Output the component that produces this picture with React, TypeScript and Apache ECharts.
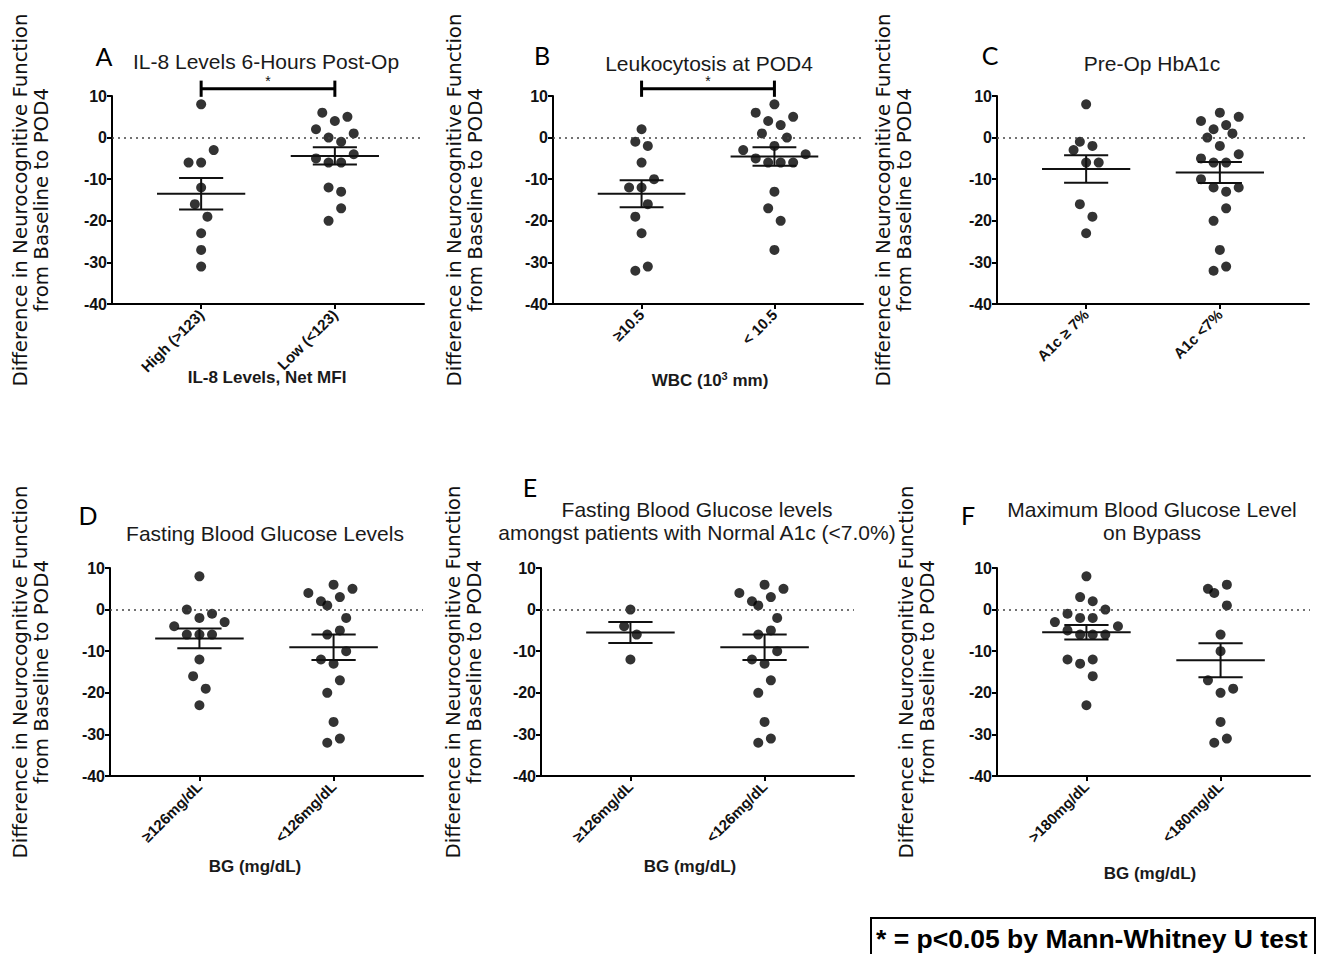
import React, { useEffect, useRef } from "react";
import * as echarts from "echarts";

// ---------- data ----------
const panelLetters = ["A", "B", "C", "D", "E", "F"];
const panelTitles = [
  "IL-8 Levels 6-Hours Post-Op",
  "Leukocytosis at POD4",
  "Pre-Op HbA1c",
  "Fasting Blood Glucose Levels",
  "Fasting Blood Glucose levels\namongst patients with Normal A1c (<7.0%)",
  "Maximum Blood Glucose Level\non Bypass",
];
const groupLabels = [
  ["High (>123)", "Low (<123)"],
  ["≥10.5", "< 10.5"],
  ["A1c ≥ 7%", "A1c <7%"],
  ["≥126mg/dL", "<126mg/dL"],
  ["≥126mg/dL", "<126mg/dL"],
  [">180mg/dL", "<180mg/dL"],
];
const xTitles = ["IL-8 Levels, Net MFI", "WBC (10{sup|3} mm)", "", "BG (mg/dL)", "BG (mg/dL)", "BG (mg/dL)"];
const yTitle = "Difference in Neurocognitive Function\nfrom Baseline to POD4";
const yTicks = [-40, -30, -20, -10, 0, 10];
const significant = [true, true, false, false, false, false];
const footnote = "* = p<0.05 by Mann-Whitney U test";

// values (difference in score) and horizontal spread slots for each group
const aHigh = [8, -3, -6, -6, -12, -16, -19, -23, -27, -31];
const aHighSlot = [0, 2, -2, 0, 0, -1, 1, 0, 0, 0];
const aLow = [6, 5, 4, 2, 1, 0, -1, -5, -4, -6, -6, -12, -13, -17, -20];
const aLowSlot = [-2, 2, 0, -3, 3, -1, 1, -3, 3, -1, 1, -1, 1, 1, -1];

const bHigh = [2, -1, -2, -6, -10, -12, -12, -16, -19, -23, -32, -31];
const bHighSlot = [0, -1, 1, 0, 2, -2, 0, 1, -1, 0, -1, 1];
const bLow = [8, 6, 4, 5, 1, 3, 0, -3, -2, -4, -5, -6, -6, -6, -13, -17, -20, -27];
const bLowSlot = [0, -3, -1, 3, -2, 1, 2, -5, 0, 5, -3, -1, 1, 3, 0, -1, 1, 0];

const cHigh = [8, -1, -2, -3, -6, -6, -16, -19, -23];
const cHighSlot = [0, -1, 1, -2, 0, 2, -1, 1, 0];
const cLow = [6, 4, 5, 2, 3, 0, 1, -2, -4, -5, -6, -6, -10, -12, -12, -13, -17, -20, -27, -32, -31];
const cLowSlot = [0, -3, 3, -1, 1, -2, 2, 0, 3, -3, -1, 1, -3, -1, 3, 1, 1, -1, 0, -1, 1];

const dHigh = [8, 0, -2, -1, -3, -4, -6, -6, -6, -12, -16, -19, -23];
const dHighSlot = [0, -2, 0, 2, 4, -4, -2, 0, 2, 0, -1, 1, 0];
const dLow = [6, 4, 5, 2, 3, 1, -2, -5, -6, -10, -12, -13, -17, -20, -27, -32, -31];
const dLowSlot = [0, -4, 3, -2, 1, -1, 2, 1, -1, 2, -2, 0, 1, -1, 0, -1, 1];

const eHigh = [0, -4, -6, -12];
const eHighSlot = [0, -1, 1, 0];
const eLow = [6, 4, 5, 2, 3, 1, -2, -5, -6, -10, -12, -13, -17, -20, -27, -32, -31];
const eLowSlot = [0, -4, 3, -2, 1, -1, 2, 1, -1, 2, -2, 0, 1, -1, 0, -1, 1];

const fHigh = [8, 3, 2, 0, -1, -2, -2, -3, -4, -5, -6, -6, -6, -12, -13, -12, -16, -23];
const fHighSlot = [0, -1, 1, 3, -3, -1, 1, -5, 5, -3, -1, 1, 3, -3, -1, 1, 1, 0];
const fLow = [5, 4, 6, 1, -6, -10, -17, -20, -19, -27, -32, -31];
const fLowSlot = [-2, -1, 1, 1, 0, 0, -2, 0, 2, 0, -1, 1];

const groups = [
  [[aHigh, aHighSlot], [aLow, aLowSlot]],
  [[bHigh, bHighSlot], [bLow, bLowSlot]],
  [[cHigh, cHighSlot], [cLow, cLowSlot]],
  [[dHigh, dHighSlot], [dLow, dLowSlot]],
  [[eHigh, eHighSlot], [eLow, eLowSlot]],
  [[fHigh, fHighSlot], [fLow, fLowSlot]],
];

// ---------- layout ----------
const grids = [
  { left: 112, top: 96, width: 312, height: 208 },
  { left: 553, top: 96, width: 310, height: 208 },
  { left: 997, top: 96, width: 312, height: 208 },
  { left: 110, top: 568, width: 313, height: 208 },
  { left: 541, top: 568, width: 313, height: 208 },
  { left: 997, top: 568, width: 313, height: 208 },
];
const letterPos = [[104, 56], [542, 55], [990, 55], [88, 515], [530, 487], [968, 515]];
const titlePos = [[266, 61], [709, 63], [1152, 63], [265, 533], [697, 521], [1152, 521]];
const yTitlePos = [[31, 200], [465, 200], [894, 200], [31, 672], [464, 672], [917, 672]];
const xTitlePos = [[267, 377], [710, 380], [0, 0], [255, 866], [690, 866], [1150, 873]];

const SLOT = 0.047;
const MEAN_HALF = 0.33;
const CAP_HALF = 0.165;
const SANS = "'Liberation Sans', Arial, sans-serif";

const mean = (a: number[]) => a.reduce((s, v) => s + v, 0) / a.length;
const sem = (a: number[]) => {
  const m = mean(a);
  return Math.sqrt(a.reduce((s, v) => s + (v - m) * (v - m), 0) / (a.length - 1)) / Math.sqrt(a.length);
};

function buildOption() {
  const xAxis: any[] = [];
  const yAxis: any[] = [];
  const series: any[] = [];
  const graphic: any[] = [];

  grids.forEach((g, i) => {
    const labels = groupLabels[i];
    xAxis.push({
      type: "value",
      gridIndex: i,
      min: 1 / 3,
      max: 8 / 3,
      splitLine: { show: false },
      axisLine: { show: true, onZero: false, lineStyle: { color: "#000", width: 2 } },
      axisTick: { show: true, customValues: [1, 2], length: 5, lineStyle: { color: "#000", width: 2 } },
      axisLabel: {
        customValues: [1, 2],
        rotate: 45,
        margin: 8,
        formatter: (v: number) => labels[Math.round(v) - 1],
        color: "#111",
        fontWeight: "bold",
        fontSize: 15,
        fontFamily: SANS,
      },
    });
    yAxis.push({
      type: "value",
      gridIndex: i,
      min: -40,
      max: 10,
      interval: 10,
      splitLine: { show: false },
      axisLine: { show: true, onZero: false, lineStyle: { color: "#000", width: 2 } },
      axisTick: { show: true, length: 5, lineStyle: { color: "#000", width: 2 } },
      axisLabel: { color: "#111", fontWeight: "bold", fontSize: 16, fontFamily: SANS, margin: 5 },
    });

    const pts: number[][] = [];
    const stats: number[][] = [];
    groups[i].forEach(([vals, slots], gi) => {
      vals.forEach((v, k) => pts.push([gi + 1 + slots[k] * SLOT, v]));
      stats.push([gi + 1, mean(vals), sem(vals)]);
    });

    series.push({
      type: "scatter",
      xAxisIndex: i,
      yAxisIndex: i,
      data: pts,
      symbol: "circle",
      symbolSize: 10,
      itemStyle: { color: "#000" },
      z: 3,
      markLine: {
        silent: true,
        symbol: "none",
        label: { show: false },
        lineStyle: { type: [2, 4], color: "#444", width: 1.5 },
        data: [{ yAxis: 0 }],
      },
    });

    series.push({
      type: "custom",
      xAxisIndex: i,
      yAxisIndex: i,
      data: stats,
      encode: { x: 0, y: 1 },
      z: 4,
      renderItem: (_p: any, api: any) => {
        const x = api.value(0), m = api.value(1), s = api.value(2);
        const st = { stroke: "#111", lineWidth: 2 };
        const ln = (a: number[], b: number[]) => ({
          type: "line",
          shape: { x1: a[0], y1: a[1], x2: b[0], y2: b[1] },
          style: st,
        });
        return {
          type: "group",
          children: [
            ln(api.coord([x - MEAN_HALF, m]), api.coord([x + MEAN_HALF, m])),
            ln(api.coord([x - CAP_HALF, m + s]), api.coord([x + CAP_HALF, m + s])),
            ln(api.coord([x - CAP_HALF, m - s]), api.coord([x + CAP_HALF, m - s])),
            ln(api.coord([x, m + s]), api.coord([x, m - s])),
          ],
        };
      },
    });

    if (significant[i]) {
      series.push({
        type: "custom",
        xAxisIndex: i,
        yAxisIndex: i,
        clip: false,
        data: [[1, 2]],
        encode: { x: [0, 1] },
        z: 5,
        renderItem: (_p: any, api: any) => {
          const x1 = api.value(0), x2 = api.value(1);
          const st = { stroke: "#000", lineWidth: 3 };
          const bar1 = api.coord([x1, 11.75]);
          const bar2 = api.coord([x2, 11.75]);
          const t1a = api.coord([x1, 9.8]), t1b = api.coord([x1, 13.7]);
          const t2a = api.coord([x2, 9.8]), t2b = api.coord([x2, 13.7]);
          const star = api.coord([(x1 + x2) / 2, 13.5]);
          return {
            type: "group",
            children: [
              { type: "line", shape: { x1: bar1[0], y1: bar1[1], x2: bar2[0], y2: bar2[1] }, style: st },
              { type: "line", shape: { x1: t1a[0], y1: t1a[1], x2: t1b[0], y2: t1b[1] }, style: st },
              { type: "line", shape: { x1: t2a[0], y1: t2a[1], x2: t2b[0], y2: t2b[1] }, style: st },
              {
                type: "text",
                style: {
                  text: "*",
                  x: star[0],
                  y: star[1],
                  align: "center",
                  verticalAlign: "middle",
                  fill: "#111",
                  font: `14px ${SANS}`,
                },
              },
            ],
          };
        },
      });
    }

    graphic.push({
      type: "text",
      x: letterPos[i][0],
      y: letterPos[i][1],
      style: { text: panelLetters[i], align: "center", verticalAlign: "middle", fill: "#000", font: `25px Lato, 'Open Sans', sans-serif` },
    });
    graphic.push({
      type: "text",
      x: titlePos[i][0],
      y: titlePos[i][1],
      style: {
        text: panelTitles[i],
        align: "center",
        verticalAlign: "middle",
        fill: "#1a1a1a",
        font: `21px ${SANS}`,
        lineHeight: 23,
      },
    });
    graphic.push({
      type: "text",
      x: yTitlePos[i][0],
      y: yTitlePos[i][1],
      rotation: Math.PI / 2,
      style: {
        text: yTitle,
        align: "center",
        verticalAlign: "middle",
        fill: "#111",
        font: `19.8px 'DejaVu Sans', sans-serif`,
        lineHeight: 21,
      },
    });
    if (xTitles[i]) {
      graphic.push({
        type: "text",
        x: xTitlePos[i][0],
        y: xTitlePos[i][1],
        style: {
          text: xTitles[i],
          align: "center",
          verticalAlign: "middle",
          fill: "#1a1a1a",
          font: `bold 17px ${SANS}`,
          rich: { sup: { fontSize: 11, fontWeight: "bold", fontFamily: SANS, verticalAlign: "top", padding: [0, 0, 8, 0] } },
        },
      });
    }
  });

  graphic.push({
    type: "rect",
    shape: { x: 871, y: 918, width: 444, height: 50 },
    style: { fill: "#fff", stroke: "#000", lineWidth: 2 },
  });
  graphic.push({
    type: "text",
    x: 876,
    y: 939,
    style: { text: footnote, align: "left", verticalAlign: "middle", fill: "#000", font: `bold 26.5px ${SANS}` },
  });

  return {
    animation: false,
    backgroundColor: "#fff",
    grid: grids.map((g) => ({ ...g, containLabel: false })),
    xAxis,
    yAxis,
    series,
    graphic,
  };
}

export default function App() {
  const ref = useRef<HTMLDivElement>(null);
  useEffect(() => {
    if (!ref.current) return;
    const chart = echarts.init(ref.current, undefined, { renderer: "svg" });
    chart.setOption(buildOption() as any);
    return () => chart.dispose();
  }, []);
  return <div ref={ref} style={{ position: "absolute", left: 0, top: 0, width: 1323, height: 954 }} />;
}
